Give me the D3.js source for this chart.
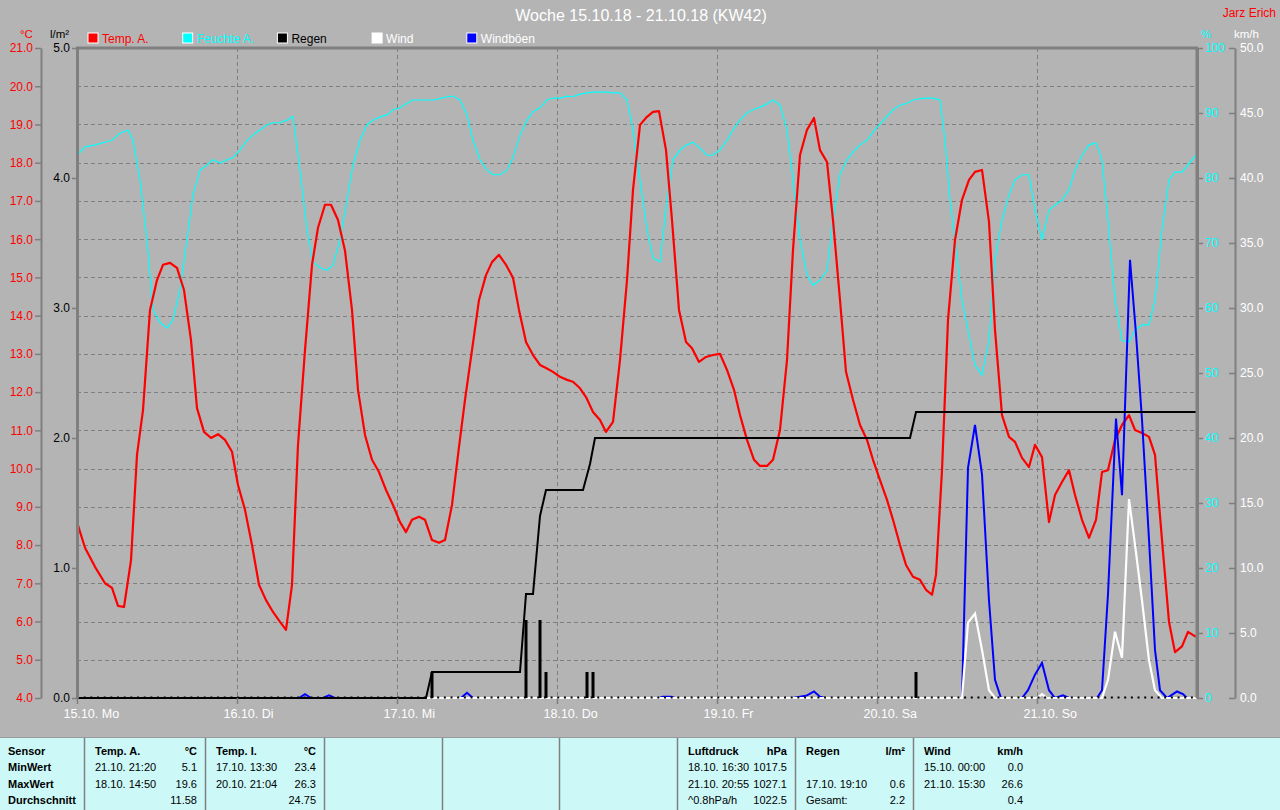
<!DOCTYPE html>
<html><head><meta charset="utf-8">
<script src="https://cdn.jsdelivr.net/npm/d3@7"></script>
<style>
html,body{margin:0;padding:0;background:#b4b4b4;}
svg{display:block;font-family:"Liberation Sans",Arial,sans-serif;}
</style></head>
<body>
<script>
// ---------- DATA ----------
const dayLabels = ["15.10. Mo","16.10. Di","17.10. Mi","18.10. Do","19.10. Fr","20.10. Sa","21.10. So"];
const tempTicks = [4,5,6,7,8,9,10,11,12,13,14,15,16,17,18,19,20,21];
const rainTicks = [0,1,2,3,4,5];
const humTicks = [0,10,20,30,40,50,60,70,80,90,100];
const windTicks = [0,5,10,15,20,25,30,35,40,45,50];

// [hours since 15.10. 00:00, value]
const tempA = [[0,8.6],[1.2,7.93],[2.7,7.43],[4.2,7.0],[5.25,6.88],[6.15,6.41],[7.05,6.38],[8.1,7.6],[9,10.36],[9.9,11.53],[10.95,14.15],[12,14.93],[12.9,15.33],[13.95,15.38],[15,15.25],[16.05,14.67],[17.1,13.36],[18,11.58],[19.05,10.96],[20.1,10.8],[21.15,10.9],[22.2,10.75],[23.25,10.44],[24.15,9.57],[25.2,8.92],[26.25,8.0],[27.3,6.96],[28.35,6.56],[29.4,6.25],[30.45,5.99],[31.35,5.78],[32.25,6.96],[33.15,10.62],[34.2,13.1],[35.25,15.33],[36.15,16.3],[37.2,16.9],[38.1,16.9],[39.15,16.5],[40.2,15.7],[41.25,14.15],[42.15,12.06],[43.2,10.88],[44.25,10.23],[45.3,9.91],[46.35,9.44],[47.4,9.05],[48.45,8.6],[49.35,8.34],[50.25,8.66],[51.3,8.74],[52.2,8.66],[53.25,8.13],[54.3,8.06],[55.2,8.13],[56.25,9.05],[57.3,10.57],[58.2,11.8],[59.25,13.1],[60.3,14.41],[61.35,15.06],[62.25,15.4],[63.3,15.59],[64.35,15.33],[65.4,14.99],[66.3,14.15],[67.35,13.31],[68.4,12.97],[69.45,12.71],[70.35,12.63],[71.4,12.53],[72.45,12.4],[73.5,12.32],[74.4,12.27],[75.45,12.1],[76.35,11.87],[77.4,11.48],[78.45,11.27],[79.35,10.96],[80.4,11.22],[81.45,12.84],[82.5,14.93],[83.4,17.29],[84.45,18.99],[85.5,19.2],[86.4,19.33],[87.3,19.35],[88.35,18.33],[89.25,16.5],[90.3,14.15],[91.35,13.31],[92.25,13.15],[93.3,12.79],[94.35,12.92],[95.4,12.97],[96.45,13.0],[97.5,12.58],[98.55,12.06],[99.45,11.4],[100.5,10.75],[101.55,10.23],[102.45,10.07],[103.5,10.07],[104.4,10.23],[105.45,11.01],[106.5,12.84],[107.4,15.72],[108.45,18.2],[109.5,18.86],[110.55,19.17],[111.45,18.33],[112.5,18.02],[113.4,16.5],[114.45,14.41],[115.35,12.53],[116.4,11.8],[117.45,11.14],[118.5,10.75],[119.4,10.23],[120.45,9.7],[121.5,9.18],[122.4,8.66],[123.45,8.0],[124.35,7.48],[125.4,7.17],[126.45,7.09],[127.35,6.83],[128.25,6.7],[128.85,7.22],[129.75,9.96],[130.65,13.89],[131.7,15.98],[132.75,17.03],[133.8,17.55],[134.7,17.76],[135.75,17.81],[136.8,16.45],[137.7,13.63],[138.75,11.4],[139.8,10.83],[140.7,10.7],[141.75,10.28],[142.8,10.04],[143.7,10.62],[144.75,10.3],[145.8,8.6],[146.7,9.31],[147.75,9.65],[148.8,9.96],[149.7,9.31],[150.75,8.66],[151.8,8.19],[152.85,8.66],[153.75,9.91],[154.65,9.96],[155.7,10.75],[156.75,11.14],[157.8,11.4],[158.7,11.01],[159.75,10.93],[160.8,10.83],[161.7,10.36],[162.75,8.13],[163.8,5.99],[164.7,5.2],[165.75,5.35],[166.65,5.73],[167.85,5.6]];

const humA = [[0,83.5],[1.2,84.8],[2.7,85.1],[4.2,85.5],[5.25,85.8],[6.45,86.9],[7.65,87.4],[8.4,85.8],[9.45,79.7],[10.5,70.5],[11.4,59.7],[12.45,57.8],[13.5,56.9],[14.4,58.2],[15.45,62.8],[16.5,70.5],[17.4,77.4],[18.45,81.2],[19.5,82],[20.4,82.8],[21.45,82.3],[22.5,82.8],[23.4,83.1],[24.45,84.3],[25.5,85.8],[26.4,86.6],[27.45,87.4],[28.5,88.2],[29.4,88.5],[30.45,88.5],[31.5,88.9],[32.4,89.5],[33.45,81.2],[34.5,72],[35.4,67.1],[36.45,66.2],[37.5,65.8],[38.4,66.6],[39.45,70.5],[40.5,76.6],[41.4,82],[42.45,85.8],[43.5,88.2],[44.4,88.9],[45.45,89.4],[46.5,89.7],[47.4,90.5],[48.45,90.8],[49.5,91.5],[50.4,92],[51.45,92],[52.5,92],[53.4,92],[54.45,92.2],[55.5,92.5],[56.4,92.6],[57.45,92],[58.5,89.7],[59.4,85.8],[60.45,82.8],[61.5,81.2],[62.4,80.5],[63.45,80.5],[64.5,81.2],[65.4,83.1],[66.45,86.6],[67.5,88.9],[68.4,90.2],[69.45,90.8],[70.5,92],[71.4,92.3],[72.45,92.3],[73.5,92.6],[74.4,92.5],[75.45,92.9],[76.5,93.1],[77.4,93.2],[78.45,93.2],[79.5,93.2],[80.4,93.1],[81.45,93.1],[82.5,92],[83.4,87.4],[84.45,79.7],[85.5,72],[86.4,67.7],[87.45,67.1],[88.5,76.6],[89.4,82.8],[90.45,84.3],[91.5,85.1],[92.4,85.5],[93.45,84.6],[94.5,83.5],[95.4,83.5],[96.45,84.3],[97.5,85.8],[98.4,87.4],[99.45,88.9],[100.5,90],[101.4,90.5],[102.45,90.9],[103.5,91.4],[104.4,92],[105.45,91.2],[106.5,87.4],[107.4,79.7],[108.45,70.5],[109.5,65.1],[110.4,63.5],[111.45,64.3],[112.5,65.8],[113.4,73.5],[114.45,80.5],[115.5,82.8],[116.4,84],[117.45,85.1],[118.5,85.8],[119.4,87.1],[120.45,88.3],[121.5,89.5],[122.4,90.5],[123.45,91.2],[124.5,91.5],[125.4,92],[126.45,92.2],[127.5,92.3],[128.4,92.3],[129.45,92],[130.2,85.8],[130.95,76.6],[131.7,70.5],[132.75,61.2],[133.65,56.6],[134.7,51.2],[135.75,49.7],[136.8,55],[137.7,67.4],[138.75,73.5],[139.8,77.4],[140.7,79.7],[141.75,80.5],[142.8,80.5],[143.7,75.1],[144.75,70.5],[145.8,75.1],[146.7,75.8],[147.75,76.6],[148.8,78.2],[149.7,81.2],[150.75,83.5],[151.8,85.1],[152.85,85.4],[153.75,82.8],[154.65,73.5],[155.7,61.2],[156.75,55],[157.8,54.8],[158.7,56.6],[159.75,57.4],[160.8,57.4],[161.7,61.2],[162.75,72],[163.8,79.7],[164.7,80.9],[165.75,80.9],[166.65,82],[167.85,83.5]];

const rainSum = [[0,0],[52.35,0],[53.25,0.2],[66.45,0.2],[67.35,0.8],[68.4,0.8],[69.45,1.4],[70.35,1.6],[75.9,1.6],[76.95,1.8],[77.7,2.0],[124.95,2.0],[125.85,2.2],[168,2.2]];
const rainBars = [[53.25,0.2],[67.35,0.6],[69.45,0.6],[70.35,0.2],[76.5,0.2],[77.4,0.2],[125.85,0.2]];

const gusts = [[0,0],[33.3,0],[34.2,0.3],[35.1,0],[36.9,0],[37.8,0.2],[38.7,0],[57.6,0],[58.5,0.4],[59.4,0],[87.3,0],[87.9,0.1],[89.1,0.1],[89.7,0],[107.4,0],[108.45,0.1],[109.5,0.2],[110.55,0.5],[111.45,0.1],[112.2,0],[132.75,0],[133.65,17.7],[134.7,21.0],[135.75,17.2],[136.8,7.5],[137.7,1.4],[138.6,0],[141.75,0],[142.65,0.6],[143.7,1.8],[144.75,2.7],[145.8,0.6],[146.7,0],[147.9,0.2],[148.8,0],[153.0,0],[153.75,0.6],[154.65,8.0],[155.85,21.5],[156.75,15.6],[157.95,33.7],[158.85,28.0],[159.75,21.4],[160.8,12.2],[161.7,3.7],[162.45,0.6],[163.5,0],[164.4,0.3],[165.0,0.5],[165.9,0.3],[166.5,0],[168,0]];

const wind = [[0,0],[132.75,0],[133.65,5.8],[134.7,6.5],[135.75,3.7],[136.8,0.6],[137.7,0],[144.0,0],[144.75,0.3],[145.5,0],[153.75,0],[154.65,1.4],[155.7,5.1],[156.75,3.1],[157.8,15.3],[158.7,11.8],[159.75,7.5],[160.8,2.9],[161.7,0.6],[162.75,0],[168,0]];

const legendItems = [["Temp. A.","#ff0000","#ff0000"],["Feuchte A.","#00ffff","#00ffff"],["Regen","#000000","#000000"],["Wind","#ffffff","#ffffff"],["Windböen","#0000ff","#ffffff"]];

const tableCols = [
  {x0:84,x1:205,head:["Temp. A.","°C"],rows:[["21.10.  21:20","5.1"],["18.10.  14:50","19.6"],["","11.58"]]},
  {x0:205,x1:324,head:["Temp. I.","°C"],rows:[["17.10.  13:30","23.4"],["20.10.  21:04","26.3"],["","24.75"]]},
  {x0:324,x1:442,head:null,rows:[]},
  {x0:442,x1:559,head:null,rows:[]},
  {x0:559,x1:677,head:null,rows:[]},
  {x0:677,x1:795,head:["Luftdruck","hPa"],rows:[["18.10.  16:30","1017.5"],["21.10.  20:55","1027.1"],["^0.8hPa/h","1022.5"]]},
  {x0:795,x1:913,head:["Regen","l/m²"],rows:[["",""],["17.10.  19:10","0.6"],["Gesamt:","2.2"]]},
  {x0:913,x1:1031,head:["Wind","km/h"],rows:[["15.10.  00:00","0.0"],["21.10.  15:30","26.6"],["","0.4"]]}
];
const rowLabels = ["Sensor","MinWert","MaxWert","Durchschnitt"];

// ---------- LAYOUT ----------
const W = 1280, H = 810;
const L = 77, R = 1197, T = 48, B = 698;
const svg = d3.select("body").append("svg").attr("width", W).attr("height", H);
svg.append("rect").attr("width", W).attr("height", H).attr("fill", "#b4b4b4");

const x = d3.scaleLinear().domain([0,168]).range([L,R]);
const yT = d3.scaleLinear().domain([4,21]).range([B,T]);
const yR = d3.scaleLinear().domain([0,5]).range([B,T]);
const yH = d3.scaleLinear().domain([0,100]).range([B,T]);
const yW = d3.scaleLinear().domain([0,50]).range([B,T]);
const grid = "#7f7f7f";

// grid
const g = svg.append("g");
g.selectAll("line.h").data(tempTicks.filter(d => d > 4 && d < 21)).join("line")
  .attr("x1", L).attr("x2", R).attr("y1", d => Math.round(yT(d)) + 0.5).attr("y2", d => Math.round(yT(d)) + 0.5)
  .attr("stroke", grid).attr("stroke-dasharray", "4,3");
g.selectAll("line.v").data(d3.range(1,7)).join("line")
  .attr("x1", d => Math.round(x(d*24)) + 0.5).attr("x2", d => Math.round(x(d*24)) + 0.5).attr("y1", T).attr("y2", B)
  .attr("stroke", grid).attr("stroke-dasharray", "4,3");

// series
const line = (ys) => d3.line().x(d => x(d[0])).y(d => ys(d[1]));
svg.append("path").datum(humA).attr("d", line(yH)).attr("fill","none").attr("stroke","#00ffff").attr("stroke-width",1.2);
svg.append("path").datum(tempA).attr("d", line(yT)).attr("fill","none").attr("stroke","#ff0000").attr("stroke-width",2.2).attr("stroke-linejoin","round");
svg.append("path").datum(gusts).attr("d", line(yW)).attr("fill","none").attr("stroke","#0000ff").attr("stroke-width",2);
svg.append("path").datum(wind).attr("d", line(yW)).attr("fill","none").attr("stroke","#ffffff").attr("stroke-width",2.2);
svg.append("line").attr("x1", x(0)).attr("x2", x(168)).attr("y1", yR(0)-0.5).attr("y2", yR(0)-0.5)
  .attr("stroke","#000").attr("stroke-width",2).attr("stroke-dasharray","2,4.67");
svg.append("path").datum(rainSum).attr("d", line(yR)).attr("fill","none").attr("stroke","#000").attr("stroke-width",2);
svg.selectAll("rect.rb").data(rainBars).join("rect")
  .attr("x", d => x(d[0]) - 1.5).attr("width", 3)
  .attr("y", d => yR(d[1])).attr("height", d => yR(0) - yR(d[1])).attr("fill","#000");

// frame
svg.append("line").attr("x1", L-1).attr("x2", R+1).attr("y1", T).attr("y2", T).attr("stroke", grid).attr("stroke-width", 3);
svg.append("line").attr("x1", R).attr("x2", R).attr("y1", T).attr("y2", B).attr("stroke", grid).attr("stroke-width", 3);

const fontAxis = (sel, color) => sel.selectAll("text").attr("fill", color).attr("font-size", 12).attr("font-family", "Liberation Sans, Arial, sans-serif");
const styleAxis = (sel, color, width) => {
  sel.select(".domain").attr("stroke", grid).attr("stroke-width", width);
  sel.selectAll(".tick line").attr("stroke", grid).attr("stroke-width", 1.5);
  fontAxis(sel, color);
};

// temp axis
const axT = svg.append("g").attr("transform", "translate(41,0)")
  .call(d3.axisLeft(yT).tickValues(tempTicks).tickFormat(d3.format(".1f")).tickSize(6).tickSizeOuter(0).tickPadding(2));
styleAxis(axT, "#ff0000", 2);
// rain axis
const axR = svg.append("g").attr("transform", `translate(${L},0)`)
  .call(d3.axisLeft(yR).tickValues(rainTicks).tickFormat(d3.format(".1f")).tickSize(5).tickSizeOuter(0).tickPadding(2));
styleAxis(axR, "#000000", 3);
// humidity axis
const axH = svg.append("g").attr("transform", `translate(${R},0)`)
  .call(d3.axisRight(yH).tickValues(humTicks).tickFormat(d3.format("d")).tickSize(6).tickSizeOuter(0).tickPadding(2));
styleAxis(axH, "#00ffff", 3);
// wind axis
const axW = svg.append("g").attr("transform", "translate(1235,0)")
  .call(d3.axisRight(yW).tickValues(windTicks).tickFormat(d3.format(".1f")).tickSizeInner(-6).tickSizeOuter(0).tickPadding(5));
styleAxis(axW, "#ffffff", 2);
// x axis
const axX = svg.append("g").attr("transform", `translate(0,${B})`)
  .call(d3.axisBottom(x).tickValues(d3.range(0,168,24)).tickFormat((d,i) => dayLabels[i]).tickSize(6).tickSizeOuter(0).tickPadding(5));
axX.select(".domain").remove();
axX.selectAll(".tick line").attr("stroke", grid).attr("stroke-width", 1.5);
fontAxis(axX, "#ffffff");
axX.selectAll("text").attr("text-anchor","start").attr("dx", -14).attr("font-size", 12.5);

// titles and units
svg.append("text").attr("x", 641).attr("y", 21).attr("text-anchor","middle").attr("fill","#fff").attr("font-size",16).text("Woche 15.10.18 - 21.10.18 (KW42)");
svg.append("text").attr("x", 1276).attr("y", 17).attr("text-anchor","end").attr("fill","#ff0000").attr("font-size",12).text("Jarz Erich");
svg.append("text").attr("x", 20).attr("y", 38).attr("fill","#ff0000").attr("font-size",11.5).text("°C");
svg.append("text").attr("x", 50).attr("y", 38).attr("fill","#000").attr("font-size",11.5).text("l/m²");
svg.append("text").attr("x", 1201).attr("y", 38).attr("fill","#00ffff").attr("font-size",11.5).text("%");
svg.append("text").attr("x", 1234).attr("y", 38).attr("fill","#fff").attr("font-size",11.5).text("km/h");

// legend
const lg = svg.selectAll("g.lg").data(legendItems).join("g").attr("transform", (d,i) => `translate(${88 + i*94.7},33)`);
lg.append("rect").attr("width",10).attr("height",10).attr("fill", d => d[1]).attr("stroke","#fff").attr("stroke-width",1);
lg.append("text").attr("x",14).attr("y",9.5).attr("fill", d => d[2]).attr("font-size",12).text(d => d[0]);

// table
const tb = svg.append("g");
tb.append("rect").attr("x",0).attr("y",737).attr("width",W).attr("height",H-737).attr("fill","#ccf8f8");
tb.append("line").attr("x1",0).attr("x2",W).attr("y1",737.5).attr("y2",737.5).attr("stroke","#9a9a9a");
const rowY = [755, 771, 788, 804];
tb.selectAll("text.rl").data(rowLabels).join("text").attr("x",8).attr("y",(d,i)=>rowY[i])
  .attr("font-size",11).attr("font-weight","bold").attr("fill","#000").text(d=>d);
tableCols.forEach(c => {
  tb.append("line").attr("x1",c.x0+0.5).attr("x2",c.x0+0.5).attr("y1",738).attr("y2",H).attr("stroke","#808080").attr("stroke-width",1.5);
  if (!c.head) return;
  tb.append("text").attr("x",c.x0+11).attr("y",rowY[0]).attr("font-size",11).attr("font-weight","bold").text(c.head[0]);
  tb.append("text").attr("x",c.x1-8).attr("y",rowY[0]).attr("text-anchor","end").attr("font-size",11).attr("font-weight","bold").text(c.head[1]);
  c.rows.forEach((r,i) => {
    tb.append("text").attr("x",c.x0+11).attr("y",rowY[i+1]).attr("font-size",11).text(r[0]);
    tb.append("text").attr("x",c.x1-8).attr("y",rowY[i+1]).attr("text-anchor","end").attr("font-size",11).text(r[1]);
  });
});
</script>
</body></html>
